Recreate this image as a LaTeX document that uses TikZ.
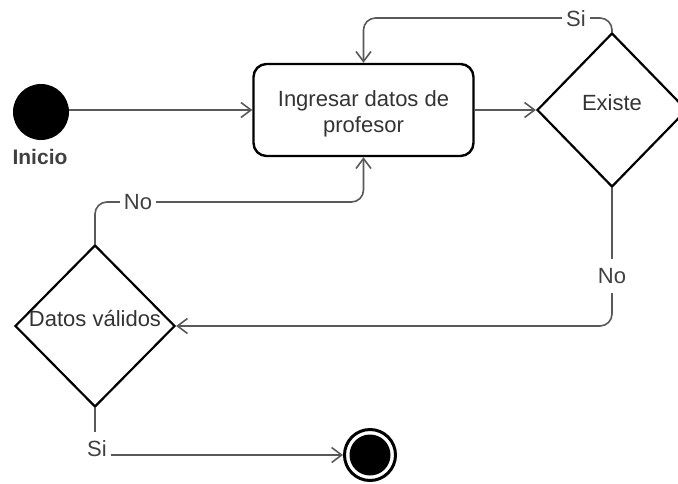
\documentclass[tikz,border=0pt]{standalone}
\usepackage{fontspec}
\setmainfont{Liberation Sans}
\usetikzlibrary{shapes.geometric, arrows.meta}
\begin{document}
\begin{tikzpicture}[x=1pt,y=-1pt,
  mainfont/.style={font=\fontsize{22}{26}\selectfont},
  startc/.style={circle, fill=black, minimum size=56pt, inner sep=0pt},
  endc/.style={circle, draw=black, line width=3pt, minimum size=51pt, inner sep=0pt,
    path picture={\fill[black] (path picture bounding box.center) circle (20.5pt);}},
  proc/.style={rectangle, draw=black, line width=2.4pt, rounded corners=13pt,
    minimum width=220pt, minimum height=92pt, align=center, mainfont, text=black!80,
    text height=50pt},
  dia/.style={diamond, draw=black, line width=2.2pt, inner sep=0pt,
    text height=0pt, text depth=0pt, mainfont, text=black!80},
  conn/.style={draw=black!65, line width=1.6pt, rounded corners=12pt,
    -{Straight Barb[length=10pt,width=15pt]}},
  lbl/.style={fill=white, text=black!75, inner xsep=4pt, inner ysep=9pt, mainfont},
  captxt/.style={font=\fontsize{21}{25}\selectfont\bfseries, text=black!75}
]
\useasboundingbox (0,0) rectangle (678,483);

\node[startc] (start) at (41,112) {};
\node[captxt] (inicio) at (40,157) {Inicio};
\node[proc] (proc) at (363.5,110) {Ingresar datos de\\profesor};
\node[dia, minimum width=150pt, minimum height=154pt] (existe) at (612,110) {Existe};
\node[dia, minimum width=160pt, minimum height=162pt] (dv) at (95,326) {Datos válidos};
\node[endc] (end) at (370,455) {};

\coordinate (siTop) at (363.5,18);
\coordinate (noTop) at (363.5,202);

\draw[conn] (start.east |- proc.west) -- (proc.west);
\draw[conn] (proc.east) -- (existe.west);
\draw[conn] (existe.north) |- (siTop) -- (proc.north);
\draw[conn] (existe.south) |- (dv.east);
\draw[conn] (dv.north) |- (noTop) -- (proc.south);
\draw[conn] (dv.south) |- (end.west);

\node[lbl] (lsi1) at (576,19) {Si};
\node[lbl] (lno1) at (612,276) {No};
\node[lbl] (lno2) at (138,202) {No};
\node[lbl] (lsi2) at (97,449) {Si};
\end{tikzpicture}
\end{document}
